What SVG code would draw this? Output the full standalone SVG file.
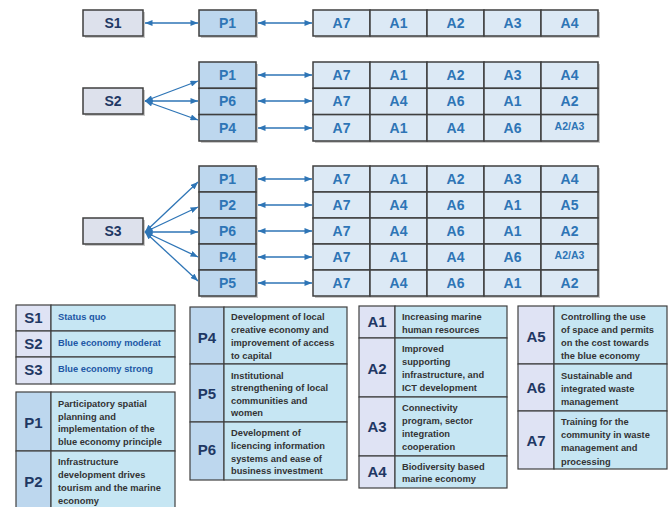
<svg xmlns="http://www.w3.org/2000/svg" width="670" height="507" viewBox="0 0 670 507">
<defs>
<style>
.sb{fill:#dde1ec;stroke:#3f3f3f;stroke-width:1.5}
.pb{fill:#bdd7ee;stroke:#3f3f3f;stroke-width:1.5}
.ab{fill:#dce9f5;stroke:#3f3f3f;stroke-width:1.5}
.sh{fill:#9a9a9a;opacity:0.55}
.st{font-family:"Liberation Sans",Arial,sans-serif;font-weight:bold;font-size:14px;fill:#1f3864;text-anchor:middle}
.pt{font-family:"Liberation Sans",Arial,sans-serif;font-weight:bold;font-size:14px;fill:#2e75b6;text-anchor:middle}
.at{font-family:"Liberation Sans",Arial,sans-serif;font-weight:bold;font-size:14px;fill:#2e75b6;text-anchor:middle}
.as{font-size:10.5px}
.con{stroke:#2e75b6;stroke-width:1.3;fill:none;marker-start:url(#ah);marker-end:url(#ah)}
.lc{fill:#dfe3f4;stroke:#404040;stroke-width:1.2}
.lp{fill:#bdd7ee;stroke:#404040;stroke-width:1.2}
.rc{fill:#c6e6f3;stroke:#404040;stroke-width:1.2}
.code{font-family:"Liberation Sans",Arial,sans-serif;font-weight:bold;font-size:15px;fill:#1f3864;text-anchor:middle}
.ls{font-family:"Liberation Sans",Arial,sans-serif;font-weight:bold;font-size:9.3px;fill:#2157a5}
.lt{font-family:"Liberation Sans",Arial,sans-serif;font-weight:bold;font-size:9.3px;fill:#333333}
</style>
<marker id="ah" viewBox="0 0 10 8" refX="10" refY="4" markerWidth="8" markerHeight="6" markerUnits="userSpaceOnUse" orient="auto-start-reverse">
<path d="M0,0 L10,4 L0,8 z" fill="#2e75b6"/>
</marker>
</defs>
<rect width="670" height="507" fill="#ffffff"/>

<!-- Scenario 1 -->
<g id="S1">
<rect class="sh" x="85" y="12" width="60" height="26"/>
<rect class="sb" x="83" y="10" width="60" height="26"/>
<text class="st" x="113" y="28">S1</text>
</g>
<g id="S1-P">
<rect class="sh" x="201" y="12" width="57" height="26"/>
<rect class="pb" x="199" y="10" width="57" height="26"/>
<text class="pt" x="227.5" y="28">P1</text>
</g>
<g id="S1-A">
<rect class="sh" x="315" y="12" width="285" height="26"/>
<rect class="ab" x="313" y="10" width="57" height="26"/><text class="at" x="341.5" y="28">A7</text>
<rect class="ab" x="370" y="10" width="57" height="26"/><text class="at" x="398.5" y="28">A1</text>
<rect class="ab" x="427" y="10" width="57" height="26"/><text class="at" x="455.5" y="28">A2</text>
<rect class="ab" x="484" y="10" width="57" height="26"/><text class="at" x="512.5" y="28">A3</text>
<rect class="ab" x="541" y="10" width="57" height="26"/><text class="at" x="569.5" y="28">A4</text>
</g>

<!-- Scenario 2 -->
<g id="S2">
<rect class="sh" x="85" y="90" width="60" height="26"/>
<rect class="sb" x="83" y="88" width="60" height="26"/>
<text class="st" x="113" y="106">S2</text>
</g>
<g id="S2-P">
<rect class="sh" x="201" y="64" width="57" height="79"/>
<rect class="pb" x="199" y="62" width="57" height="26.3"/><text class="pt" x="227.5" y="80">P1</text>
<rect class="pb" x="199" y="88.3" width="57" height="26.3"/><text class="pt" x="227.5" y="106">P6</text>
<rect class="pb" x="199" y="114.6" width="57" height="26.4"/><text class="pt" x="227.5" y="133">P4</text>
</g>
<g id="S2-A">
<rect class="sh" x="315" y="64" width="285" height="79"/>
<rect class="ab" x="313" y="62" width="57" height="26.3"/><text class="at" x="341.5" y="80">A7</text>
<rect class="ab" x="370" y="62" width="57" height="26.3"/><text class="at" x="398.5" y="80">A1</text>
<rect class="ab" x="427" y="62" width="57" height="26.3"/><text class="at" x="455.5" y="80">A2</text>
<rect class="ab" x="484" y="62" width="57" height="26.3"/><text class="at" x="512.5" y="80">A3</text>
<rect class="ab" x="541" y="62" width="57" height="26.3"/><text class="at" x="569.5" y="80">A4</text>
<rect class="ab" x="313" y="88.3" width="57" height="26.3"/><text class="at" x="341.5" y="106">A7</text>
<rect class="ab" x="370" y="88.3" width="57" height="26.3"/><text class="at" x="398.5" y="106">A4</text>
<rect class="ab" x="427" y="88.3" width="57" height="26.3"/><text class="at" x="455.5" y="106">A6</text>
<rect class="ab" x="484" y="88.3" width="57" height="26.3"/><text class="at" x="512.5" y="106">A1</text>
<rect class="ab" x="541" y="88.3" width="57" height="26.3"/><text class="at" x="569.5" y="106">A2</text>
<rect class="ab" x="313" y="114.6" width="57" height="26.4"/><text class="at" x="341.5" y="133">A7</text>
<rect class="ab" x="370" y="114.6" width="57" height="26.4"/><text class="at" x="398.5" y="133">A1</text>
<rect class="ab" x="427" y="114.6" width="57" height="26.4"/><text class="at" x="455.5" y="133">A4</text>
<rect class="ab" x="484" y="114.6" width="57" height="26.4"/><text class="at" x="512.5" y="133">A6</text>
<rect class="ab" x="541" y="114.6" width="57" height="26.4"/><text class="at as" x="569.5" y="130">A2/A3</text>
</g>

<!-- Scenario 3 -->
<g id="S3">
<rect class="sh" x="85" y="220" width="60" height="26"/>
<rect class="sb" x="83" y="218" width="60" height="26"/>
<text class="st" x="113" y="236">S3</text>
</g>
<g id="S3-P">
<rect class="sh" x="201" y="168" width="57" height="130"/>
<rect class="pb" x="199" y="166" width="57" height="26"/><text class="pt" x="227.5" y="184">P1</text>
<rect class="pb" x="199" y="192" width="57" height="26"/><text class="pt" x="227.5" y="210">P2</text>
<rect class="pb" x="199" y="218" width="57" height="26"/><text class="pt" x="227.5" y="236">P6</text>
<rect class="pb" x="199" y="244" width="57" height="26"/><text class="pt" x="227.5" y="262">P4</text>
<rect class="pb" x="199" y="270" width="57" height="26"/><text class="pt" x="227.5" y="288">P5</text>
</g>
<g id="S3-A">
<rect class="sh" x="315" y="168" width="285" height="130"/>
<rect class="ab" x="313" y="166" width="57" height="26"/><text class="at" x="341.5" y="184">A7</text>
<rect class="ab" x="370" y="166" width="57" height="26"/><text class="at" x="398.5" y="184">A1</text>
<rect class="ab" x="427" y="166" width="57" height="26"/><text class="at" x="455.5" y="184">A2</text>
<rect class="ab" x="484" y="166" width="57" height="26"/><text class="at" x="512.5" y="184">A3</text>
<rect class="ab" x="541" y="166" width="57" height="26"/><text class="at" x="569.5" y="184">A4</text>
<rect class="ab" x="313" y="192" width="57" height="26"/><text class="at" x="341.5" y="210">A7</text>
<rect class="ab" x="370" y="192" width="57" height="26"/><text class="at" x="398.5" y="210">A4</text>
<rect class="ab" x="427" y="192" width="57" height="26"/><text class="at" x="455.5" y="210">A6</text>
<rect class="ab" x="484" y="192" width="57" height="26"/><text class="at" x="512.5" y="210">A1</text>
<rect class="ab" x="541" y="192" width="57" height="26"/><text class="at" x="569.5" y="210">A5</text>
<rect class="ab" x="313" y="218" width="57" height="26"/><text class="at" x="341.5" y="236">A7</text>
<rect class="ab" x="370" y="218" width="57" height="26"/><text class="at" x="398.5" y="236">A4</text>
<rect class="ab" x="427" y="218" width="57" height="26"/><text class="at" x="455.5" y="236">A6</text>
<rect class="ab" x="484" y="218" width="57" height="26"/><text class="at" x="512.5" y="236">A1</text>
<rect class="ab" x="541" y="218" width="57" height="26"/><text class="at" x="569.5" y="236">A2</text>
<rect class="ab" x="313" y="244" width="57" height="26"/><text class="at" x="341.5" y="262">A7</text>
<rect class="ab" x="370" y="244" width="57" height="26"/><text class="at" x="398.5" y="262">A1</text>
<rect class="ab" x="427" y="244" width="57" height="26"/><text class="at" x="455.5" y="262">A4</text>
<rect class="ab" x="484" y="244" width="57" height="26"/><text class="at" x="512.5" y="262">A6</text>
<rect class="ab" x="541" y="244" width="57" height="26"/><text class="at as" x="569.5" y="259">A2/A3</text>
<rect class="ab" x="313" y="270" width="57" height="26"/><text class="at" x="341.5" y="288">A7</text>
<rect class="ab" x="370" y="270" width="57" height="26"/><text class="at" x="398.5" y="288">A4</text>
<rect class="ab" x="427" y="270" width="57" height="26"/><text class="at" x="455.5" y="288">A6</text>
<rect class="ab" x="484" y="270" width="57" height="26"/><text class="at" x="512.5" y="288">A1</text>
<rect class="ab" x="541" y="270" width="57" height="26"/><text class="at" x="569.5" y="288">A2</text>
</g>

<!-- Connectors -->
<g id="connectors">
<line class="con" x1="145" y1="23" x2="198" y2="23"/>
<line class="con" x1="258" y1="23" x2="312" y2="23"/>
<line class="con" x1="145" y1="101" x2="198" y2="81"/>
<line class="con" x1="145" y1="101" x2="198" y2="101"/>
<line class="con" x1="145" y1="101" x2="198" y2="120"/>
<line class="con" x1="258" y1="75" x2="312" y2="75"/>
<line class="con" x1="258" y1="101" x2="312" y2="101"/>
<line class="con" x1="258" y1="128" x2="312" y2="128"/>
<line class="con" x1="145" y1="232" x2="198" y2="182"/>
<line class="con" x1="145" y1="232" x2="198" y2="207"/>
<line class="con" x1="145" y1="232" x2="198" y2="232"/>
<line class="con" x1="145" y1="232" x2="198" y2="257"/>
<line class="con" x1="145" y1="232" x2="198" y2="281"/>
<line class="con" x1="258" y1="179" x2="312" y2="179"/>
<line class="con" x1="258" y1="205" x2="312" y2="205"/>
<line class="con" x1="258" y1="231" x2="312" y2="231"/>
<line class="con" x1="258" y1="257" x2="312" y2="257"/>
<line class="con" x1="258" y1="283" x2="312" y2="283"/>
</g>

<!-- Legend: scenarios -->
<g id="legend-S">
<rect class="lc" x="16" y="305" width="35" height="26"/><rect class="rc" x="51" y="305" width="124" height="26"/>
<text class="code" x="33.5" y="323">S1</text><text class="ls" x="58" y="320">Status quo</text>
<rect class="lc" x="16" y="331" width="35" height="26"/><rect class="rc" x="51" y="331" width="124" height="26"/>
<text class="code" x="33.5" y="349">S2</text><text class="ls" x="58" y="346">Blue economy moderat</text>
<rect class="lc" x="16" y="357" width="35" height="27"/><rect class="rc" x="51" y="357" width="124" height="27"/>
<text class="code" x="33.5" y="375">S3</text><text class="ls" x="58" y="372">Blue economy strong</text>
</g>

<!-- Legend: P1, P2 -->
<g id="legend-P12">
<rect class="lp" x="16" y="392" width="35" height="59"/><rect class="rc" x="51" y="392" width="124" height="59"/>
<text class="code" x="33.5" y="428">P1</text>
<text class="lt" x="58" y="407">Participatory spatial</text>
<text class="lt" x="58" y="420">planning and</text>
<text class="lt" x="58" y="432">implementation of the</text>
<text class="lt" x="58" y="445">blue economy principle</text>
<rect class="lp" x="16" y="451" width="35" height="66"/><rect class="rc" x="51" y="451" width="124" height="66"/>
<text class="code" x="33.5" y="487">P2</text>
<text class="lt" x="58" y="465">Infrastructure</text>
<text class="lt" x="58" y="478">development drives</text>
<text class="lt" x="58" y="491">tourism and the marine</text>
<text class="lt" x="58" y="504">economy</text>
</g>

<!-- Legend: P4, P5, P6 -->
<g id="legend-P456">
<rect class="lp" x="190" y="307" width="34" height="57"/><rect class="rc" x="224" y="307" width="123" height="57"/>
<text class="code" x="207" y="343">P4</text>
<text class="lt" x="231" y="320">Development of local</text>
<text class="lt" x="231" y="333">creative economy and</text>
<text class="lt" x="231" y="346">improvement of access</text>
<text class="lt" x="231" y="359">to capital</text>
<rect class="lp" x="190" y="364" width="34" height="58"/><rect class="rc" x="224" y="364" width="123" height="58"/>
<text class="code" x="207" y="399">P5</text>
<text class="lt" x="231" y="379">Institutional</text>
<text class="lt" x="231" y="391">strengthening of local</text>
<text class="lt" x="231" y="404">communities and</text>
<text class="lt" x="231" y="416">women</text>
<rect class="lp" x="190" y="422" width="34" height="58"/><rect class="rc" x="224" y="422" width="123" height="58"/>
<text class="code" x="207" y="455">P6</text>
<text class="lt" x="231" y="436">Development of</text>
<text class="lt" x="231" y="449">licencing information</text>
<text class="lt" x="231" y="462">systems and ease of</text>
<text class="lt" x="231" y="474">business investment</text>
</g>

<!-- Legend: A1-A4 -->
<g id="legend-A1-4">
<rect class="lc" x="359" y="306" width="36" height="32"/><rect class="rc" x="395" y="306" width="112" height="32"/>
<text class="code" x="377" y="327">A1</text>
<text class="lt" x="402" y="320">Increasing marine</text>
<text class="lt" x="402" y="333">human resources</text>
<rect class="lc" x="359" y="338" width="36" height="59"/><rect class="rc" x="395" y="338" width="112" height="59"/>
<text class="code" x="377" y="374">A2</text>
<text class="lt" x="402" y="352">Improved</text>
<text class="lt" x="402" y="365">supporting</text>
<text class="lt" x="402" y="378">infrastructure, and</text>
<text class="lt" x="402" y="391">ICT development</text>
<rect class="lc" x="359" y="397" width="36" height="59"/><rect class="rc" x="395" y="397" width="112" height="59"/>
<text class="code" x="377" y="432">A3</text>
<text class="lt" x="402" y="411">Connectivity</text>
<text class="lt" x="402" y="424">program, sector</text>
<text class="lt" x="402" y="437">integration</text>
<text class="lt" x="402" y="450">cooperation</text>
<rect class="lc" x="359" y="456" width="36" height="32"/><rect class="rc" x="395" y="456" width="112" height="32"/>
<text class="code" x="377" y="477">A4</text>
<text class="lt" x="402" y="470">Biodiversity based</text>
<text class="lt" x="402" y="482">marine economy</text>
</g>

<!-- Legend: A5-A7 -->
<g id="legend-A5-7">
<rect class="lc" x="518" y="306" width="36" height="58"/><rect class="rc" x="554" y="306" width="113" height="58"/>
<text class="code" x="536" y="342">A5</text>
<text class="lt" x="561" y="320">Controlling the use</text>
<text class="lt" x="561" y="333">of space and permits</text>
<text class="lt" x="561" y="346">on the cost towards</text>
<text class="lt" x="561" y="359">the blue economy</text>
<rect class="lc" x="518" y="364" width="36" height="47"/><rect class="rc" x="554" y="364" width="113" height="47"/>
<text class="code" x="536" y="393">A6</text>
<text class="lt" x="561" y="379">Sustainable and</text>
<text class="lt" x="561" y="392">integrated waste</text>
<text class="lt" x="561" y="405">management</text>
<rect class="lc" x="518" y="411" width="36" height="58"/><rect class="rc" x="554" y="411" width="113" height="58"/>
<text class="code" x="536" y="446">A7</text>
<text class="lt" x="561" y="425">Training for the</text>
<text class="lt" x="561" y="438">community in waste</text>
<text class="lt" x="561" y="451">management and</text>
<text class="lt" x="561" y="465">processing</text>
</g>
</svg>
